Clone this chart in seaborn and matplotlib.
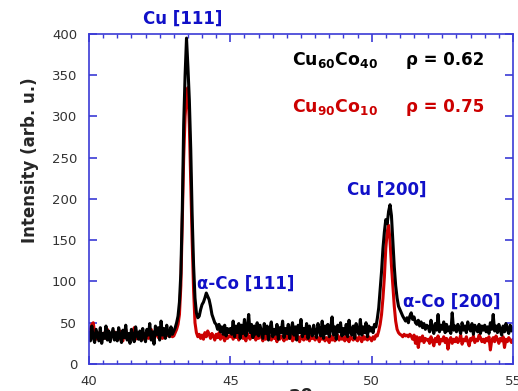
import pandas as pd
import seaborn as sns
import matplotlib.pyplot as plt
from matplotlib.ticker import MultipleLocator

# 2-theta scan positions (deg), 0.05 step
two_theta = [
    40.00, 40.05, 40.10, 40.15, 40.20, 40.25, 40.30, 40.35, 40.40, 40.45, 40.50, 40.55, 40.60, 40.65, 40.70, 40.75, 40.80, 40.85, 40.90, 40.95,
    41.00, 41.05, 41.10, 41.15, 41.20, 41.25, 41.30, 41.35, 41.40, 41.45, 41.50, 41.55, 41.60, 41.65, 41.70, 41.75, 41.80, 41.85, 41.90, 41.95,
    42.00, 42.05, 42.10, 42.15, 42.20, 42.25, 42.30, 42.35, 42.40, 42.45, 42.50, 42.55, 42.60, 42.65, 42.70, 42.75, 42.80, 42.85, 42.90, 42.95,
    43.00, 43.05, 43.10, 43.15, 43.20, 43.25, 43.30, 43.35, 43.40, 43.45, 43.50, 43.55, 43.60, 43.65, 43.70, 43.75, 43.80, 43.85, 43.90, 43.95,
    44.00, 44.05, 44.10, 44.15, 44.20, 44.25, 44.30, 44.35, 44.40, 44.45, 44.50, 44.55, 44.60, 44.65, 44.70, 44.75, 44.80, 44.85, 44.90, 44.95,
    45.00, 45.05, 45.10, 45.15, 45.20, 45.25, 45.30, 45.35, 45.40, 45.45, 45.50, 45.55, 45.60, 45.65, 45.70, 45.75, 45.80, 45.85, 45.90, 45.95,
    46.00, 46.05, 46.10, 46.15, 46.20, 46.25, 46.30, 46.35, 46.40, 46.45, 46.50, 46.55, 46.60, 46.65, 46.70, 46.75, 46.80, 46.85, 46.90, 46.95,
    47.00, 47.05, 47.10, 47.15, 47.20, 47.25, 47.30, 47.35, 47.40, 47.45, 47.50, 47.55, 47.60, 47.65, 47.70, 47.75, 47.80, 47.85, 47.90, 47.95,
    48.00, 48.05, 48.10, 48.15, 48.20, 48.25, 48.30, 48.35, 48.40, 48.45, 48.50, 48.55, 48.60, 48.65, 48.70, 48.75, 48.80, 48.85, 48.90, 48.95,
    49.00, 49.05, 49.10, 49.15, 49.20, 49.25, 49.30, 49.35, 49.40, 49.45, 49.50, 49.55, 49.60, 49.65, 49.70, 49.75, 49.80, 49.85, 49.90, 49.95,
    50.00, 50.05, 50.10, 50.15, 50.20, 50.25, 50.30, 50.35, 50.40, 50.45, 50.50, 50.55, 50.60, 50.65, 50.70, 50.75, 50.80, 50.85, 50.90, 50.95,
    51.00, 51.05, 51.10, 51.15, 51.20, 51.25, 51.30, 51.35, 51.40, 51.45, 51.50, 51.55, 51.60, 51.65, 51.70, 51.75, 51.80, 51.85, 51.90, 51.95,
    52.00, 52.05, 52.10, 52.15, 52.20, 52.25, 52.30, 52.35, 52.40, 52.45, 52.50, 52.55, 52.60, 52.65, 52.70, 52.75, 52.80, 52.85, 52.90, 52.95,
    53.00, 53.05, 53.10, 53.15, 53.20, 53.25, 53.30, 53.35, 53.40, 53.45, 53.50, 53.55, 53.60, 53.65, 53.70, 53.75, 53.80, 53.85, 53.90, 53.95,
    54.00, 54.05, 54.10, 54.15, 54.20, 54.25, 54.30, 54.35, 54.40, 54.45, 54.50, 54.55, 54.60, 54.65, 54.70, 54.75, 54.80, 54.85, 54.90, 54.95,
    55.00,
]

# Cu60Co40 intensities (black)
cu60co40 = [
    38, 28, 46, 32, 26, 42, 35, 28, 44, 25, 37, 31, 46, 29, 40, 27, 35, 43, 29, 38,
    28, 44, 33, 26, 41, 32, 47, 29, 37, 25, 42, 33, 27, 45, 35, 30, 40, 28, 43, 33,
    27, 42, 35, 49, 29, 39, 24, 46, 36, 44, 29, 52, 35, 43, 31, 47, 37, 33, 45, 36,
    40, 44, 50, 58, 75, 110, 185, 290, 350, 395, 360, 320, 260, 180, 120, 80, 62, 56, 58, 66,
    72, 75, 80, 86, 82, 78, 70, 60, 55, 50, 48, 42, 48, 39, 45, 36, 47, 34, 43, 38,
    43, 36, 52, 33, 46, 38, 49, 31, 47, 37, 54, 34, 44, 60, 38, 48, 32, 46, 36, 50,
    34, 47, 39, 31, 49, 37, 46, 29, 43, 51, 33, 42, 36, 48, 30, 44, 38, 52, 32, 43,
    37, 48, 31, 42, 50, 35, 45, 29, 47, 38, 54, 33, 43, 37, 49, 31, 46, 39, 34, 47,
    38, 32, 49, 41, 34, 52, 31, 46, 37, 48, 33, 43, 57, 35, 45, 30, 47, 39, 50, 34,
    43, 36, 48, 33, 53, 39, 35, 46, 31, 49, 41, 36, 54, 35, 45, 38, 50, 33, 46, 40,
    44, 38, 48, 45, 55, 68, 90, 112, 140, 160, 175, 170, 185, 193, 180, 150, 118, 95, 80, 70,
    66, 62, 58, 55, 52, 56, 50, 58, 62, 54, 57, 50, 48, 53, 46, 51, 44, 49, 42, 47,
    45, 39, 53, 43, 37, 49, 41, 60, 39, 47, 42, 51, 38, 48, 40, 45, 37, 62, 41, 46,
    39, 48, 42, 37, 50, 41, 46, 38, 51, 43, 40, 49, 36, 47, 42, 39, 48, 37, 46, 41,
    47, 39, 45, 37, 50, 42, 60, 40, 46, 38, 48, 41, 35, 46, 39, 49, 42, 37, 47, 40,
    44,
]

# Cu90Co10 intensities (red)
cu90co10 = [
    35, 42, 48, 50, 38, 30, 36, 33, 40, 29, 35, 38, 31, 42, 34, 30, 37, 33, 39, 32,
    36, 30, 40, 34, 28, 37, 42, 31, 35, 29, 38, 33, 44, 30, 36, 32, 39, 35, 30, 37,
    33, 39, 31, 36, 42, 30, 37, 34, 40, 32, 35, 38, 31, 36, 33, 40, 34, 37, 35, 33,
    34, 38, 42, 48, 60, 95, 170, 250, 300, 325, 335, 290, 220, 150, 90, 50, 38, 33, 36, 31,
    35, 30, 38, 33, 40, 36, 31, 37, 34, 29, 36, 32, 38, 30, 35, 33, 28, 36, 31, 34,
    33, 37, 30, 35, 32, 38, 29, 34, 36, 31, 35, 28, 37, 33, 30, 36, 32, 34, 29, 35,
    31, 36, 33, 28, 35, 30, 37, 32, 34, 29, 36, 31, 33, 27, 35, 30, 34, 32, 28, 35,
    30, 34, 31, 36, 28, 33, 30, 35, 32, 27, 34, 31, 29, 35, 30, 33, 28, 34, 31, 32,
    29, 34, 31, 27, 35, 30, 33, 28, 32, 30, 26, 34, 29, 32, 28, 31, 35, 29, 33, 30,
    32, 28, 34, 30, 27, 33, 31, 29, 35, 30, 28, 33, 31, 27, 34, 30, 32, 29, 33, 31,
    28, 33, 30, 35, 34, 40, 48, 60, 80, 105, 140, 160, 168, 150, 120, 95, 70, 52, 42, 38,
    36, 35, 33, 36, 34, 35, 33, 36, 34, 30, 35, 25, 33, 20, 32, 28, 34, 26, 31, 29,
    30, 25, 33, 28, 22, 31, 27, 34, 24, 30, 28, 33, 26, 31, 18, 29, 32, 25, 30, 27,
    32, 26, 29, 35, 24, 30, 28, 33, 27, 22, 31, 29, 34, 26, 30, 28, 35, 32, 27, 30,
    26, 31, 28, 33, 17, 29, 32, 27, 34, 30, 25, 31, 28, 33, 20, 30, 27, 32, 29, 26,
    30,
]

sns.set_style('ticks')
plt.rcParams['font.family'] = ['DejaVu Sans']
plt.rcParams['mathtext.fontset'] = 'dejavusans'

spine_blue = '#3b3bd6'
label_blue = '#1010c8'
red = '#cc0000'

df = pd.concat([
    pd.DataFrame({'two_theta': two_theta, 'intensity': cu90co10, 'sample': 'Cu90Co10'}),
    pd.DataFrame({'two_theta': two_theta, 'intensity': cu60co40, 'sample': 'Cu60Co40'}),
])

fig = plt.figure(figsize=(5.18, 3.91), dpi=100)
ax = fig.add_axes([0.1718, 0.0691, 0.8185, 0.844])
sns.lineplot(data=df, x='two_theta', y='intensity', hue='sample',
             palette={'Cu90Co10': red, 'Cu60Co40': 'black'},
             estimator=None, sort=False, linewidth=2.2, legend=False, ax=ax)

ax.set_xlim(40, 55)
ax.set_ylim(0, 400)
ax.xaxis.set_major_locator(MultipleLocator(5))
ax.xaxis.set_minor_locator(MultipleLocator(0.5))
ax.yaxis.set_major_locator(MultipleLocator(50))
for s in ax.spines.values():
    s.set_color(spine_blue)
    s.set_linewidth(1.2)
ax.tick_params(which='both', direction='in', color=spine_blue, top=True, right=True,
               labelsize=9.5, labelcolor='#333333')
ax.tick_params(which='major', length=6, width=1.2)
ax.tick_params(which='minor', length=3, width=1.0)
ax.tick_params(axis='x', pad=8)
ax.tick_params(axis='y', pad=8.5)

ax.set_xlabel('2θ', fontsize=13, fontweight='bold', labelpad=0)
ax.set_ylabel('Intensity (arb. u.)', fontsize=12, fontweight='bold')
ax.yaxis.set_label_coords(-0.118, 0.618)

# peak labels
ax.text(43.33, 419, 'Cu [111]', color=label_blue, fontsize=12, fontweight='bold',
        ha='center', va='center', clip_on=False)
ax.text(43.82, 97, 'α-Co [111]', color=label_blue, fontsize=12, fontweight='bold',
        ha='left', va='center')
ax.text(50.55, 211, 'Cu [200]', color=label_blue, fontsize=12, fontweight='bold',
        ha='center', va='center')
ax.text(51.1, 76, 'α-Co [200]', color=label_blue, fontsize=12, fontweight='bold',
        ha='left', va='center')

# sample labels
ax.text(47.18, 368, r'Cu$_\mathbf{60}$Co$_\mathbf{40}$', color='black', fontsize=12.5,
        fontweight='bold', ha='left', va='center')
ax.text(51.21, 368, 'ρ = 0.62', color='black', fontsize=12, fontweight='bold',
        ha='left', va='center')
ax.text(47.18, 311, r'Cu$_\mathbf{90}$Co$_\mathbf{10}$', color=red, fontsize=12.5,
        fontweight='bold', ha='left', va='center')
ax.text(51.21, 311, 'ρ = 0.75', color=red, fontsize=12, fontweight='bold',
        ha='left', va='center')

plt.savefig('out.png', dpi=100)
